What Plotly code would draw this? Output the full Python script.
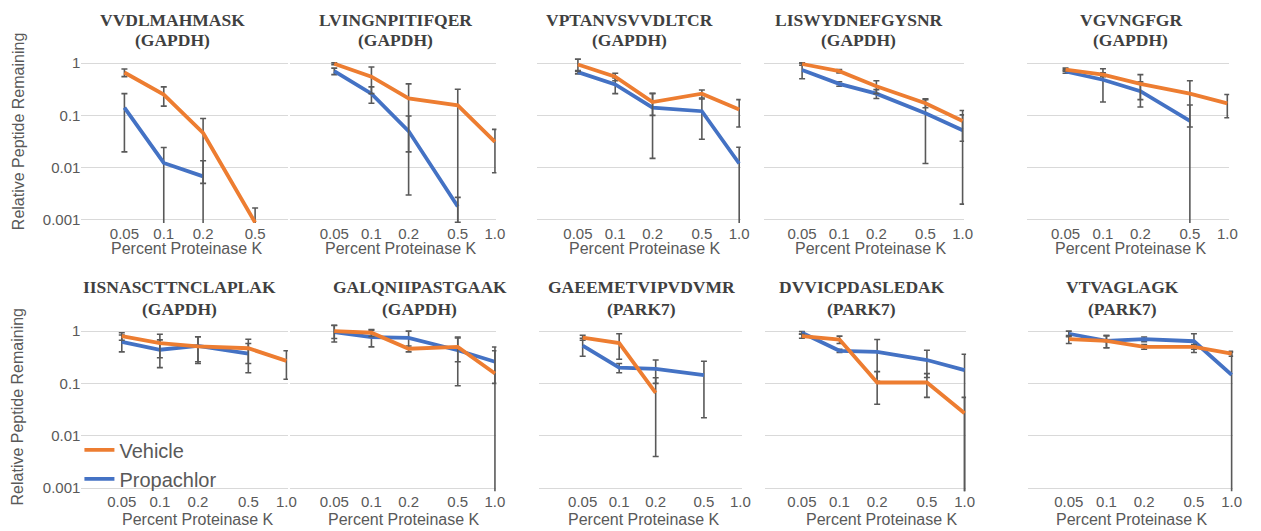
import plotly.graph_objects as go

W, H = 1261, 531

doses = [0.05, 0.1, 0.2, 0.5, 1.0]
dose_labels = ["0.05", "0.1", "0.2", "0.5", "1.0"]
y_ticks = [0.001, 0.01, 0.1, 1]
y_tick_labels = ["0.001", "0.01", "0.1", "1"]

peptides = ["VVDLMAHMASK", "LVINGNPITIFQER", "VPTANVSVVDLTCR", "LISWYDNEFGYSNR", "VGVNGFGR",
            "IISNASCTTNCLAPLAK", "GALQNIIPASTGAAK", "GAEEMETVIPVDVMR", "DVVICPDASLEDAK", "VTVAGLAGK"]
proteins = ["GAPDH", "GAPDH", "GAPDH", "GAPDH", "GAPDH",
            "GAPDH", "GAPDH", "PARK7", "PARK7", "PARK7"]

# Relative peptide remaining (mean) and standard deviation, per panel
p1_vehicle = [0.66, 0.25, 0.046, 0.00089, None]
p1_vehicle_sd = [0.11, 0.10, 0.041, 0.0008, None]
p1_propachlor = [0.14, 0.0123, 0.0068, None, None]
p1_propachlor_sd = [0.12, 0.012, 0.0067, None, None]

p2_vehicle = [0.97, 0.55, 0.21, 0.155, 0.031]
p2_vehicle_sd = [0.04, 0.29, 0.19, 0.16, 0.023]
p2_propachlor = [0.70, 0.26, 0.05, 0.0018, None]
p2_propachlor_sd = [0.10, 0.09, 0.047, 0.0009, None]

p3_vehicle = [0.94, 0.55, 0.18, 0.26, 0.13]
p3_vehicle_sd = [0.25, 0.09, 0.08, 0.045, 0.07]
p3_propachlor = [0.67, 0.39, 0.14, 0.12, 0.012]
p3_propachlor_sd = [0.05, 0.13, 0.125, 0.085, 0.0125]

p4_vehicle = [0.96, 0.70, 0.36, 0.17, 0.078]
p4_vehicle_sd = [0.05, 0.05, 0.10, 0.03, 0.046]
p4_propachlor = [0.74, 0.40, 0.26, 0.11, 0.052]
p4_propachlor_sd = [0.24, 0.04, 0.05, 0.098, 0.05]

p5_vehicle = [0.75, 0.60, 0.40, 0.26, 0.17]
p5_vehicle_sd = [0.05, 0.05, 0.20, 0.20, 0.08]
p5_propachlor = [0.69, 0.48, 0.29, 0.078, None]
p5_propachlor_sd = [0.05, 0.30, 0.146, 0.08, None]

p6_vehicle = [0.80, 0.59, 0.51, 0.47, 0.27]
p6_vehicle_sd = [0.13, 0.28, 0.27, 0.23, 0.15]
p6_propachlor = [0.62, 0.44, 0.52, 0.37, None]
p6_propachlor_sd = [0.22, 0.24, 0.26, 0.21, None]

p7_vehicle = [1.0, 0.93, 0.46, 0.50, 0.155]
p7_vehicle_sd = [0.28, 0.14, 0.06, 0.24, 0.34]
p7_propachlor = [0.96, 0.77, 0.74, 0.43, 0.26]
p7_propachlor_sd = [0.34, 0.27, 0.26, 0.34, 0.16]

p8_vehicle = [0.75, 0.59, 0.066, None, None]
p8_vehicle_sd = [0.08, 0.30, 0.062, None, None]
p8_propachlor = [0.53, 0.20, 0.19, 0.144, None]
p8_propachlor_sd = [0.20, 0.04, 0.09, 0.122, None]

p9_vehicle = [0.80, 0.69, 0.104, 0.104, 0.027]
p9_vehicle_sd = [0.07, 0.11, 0.064, 0.05, 0.027]
p9_propachlor = [0.93, 0.42, 0.40, 0.28, 0.18]
p9_propachlor_sd = [0.05, 0.03, 0.29, 0.15, 0.18]

p10_vehicle = [0.70, 0.65, 0.50, 0.50, 0.37]
p10_vehicle_sd = [0.12, 0.17, 0.05, 0.05, 0.04]
p10_propachlor = [0.89, 0.65, 0.70, 0.64, 0.146]
p10_propachlor_sd = [0.11, 0.17, 0.07, 0.25, 0.25]

vehicle = [p1_vehicle, p2_vehicle, p3_vehicle, p4_vehicle, p5_vehicle,
           p6_vehicle, p7_vehicle, p8_vehicle, p9_vehicle, p10_vehicle]
vehicle_sd = [p1_vehicle_sd, p2_vehicle_sd, p3_vehicle_sd, p4_vehicle_sd, p5_vehicle_sd,
              p6_vehicle_sd, p7_vehicle_sd, p8_vehicle_sd, p9_vehicle_sd, p10_vehicle_sd]
propachlor = [p1_propachlor, p2_propachlor, p3_propachlor, p4_propachlor, p5_propachlor,
              p6_propachlor, p7_propachlor, p8_propachlor, p9_propachlor, p10_propachlor]
propachlor_sd = [p1_propachlor_sd, p2_propachlor_sd, p3_propachlor_sd, p4_propachlor_sd, p5_propachlor_sd,
                 p6_propachlor_sd, p7_propachlor_sd, p8_propachlor_sd, p9_propachlor_sd, p10_propachlor_sd]

ORANGE = "#ED7D31"
BLUE = "#4472C4"
ERR = "#595959"
GRID = "#D9D9D9"
TXT = "#595959"
TITLE = "#404040"

# panel geometry (pixels)
col_px = [(82, 290), (292, 500), (541, 746), (769, 971), (1034, 1238),
          (82, 290), (292, 500), (543, 747), (770, 973), (1035, 1242)]
row_px = [(55, 224), (326.6, 495.7)]
x_ranges = [(-1.63, -0.05), (-1.66, 0.012), (-1.63, 0.012), (-1.614, 0.012), (-1.614, 0.015),
            (-1.62, 0.012), (-1.66, 0.012), (-1.66, 0.01), (-1.60, 0.012), (-1.63, 0.012)]
title_cx = [174, 398, 634, 865, 1139, 181, 423, 646, 868, 1131]
title_y = [(18, 39), (289, 311)]
xtitle_cx = [188, 404, 650, 877, 1139, 199, 407, 649, 888, 1140]
xtitle_y = [250, 524]


def fx(px):
    return px / W


def fy(py):
    return 1 - py / H


fig = go.Figure()
layout = dict(
    width=W, height=H, margin=dict(l=0, r=0, t=0, b=0),
    paper_bgcolor="white", plot_bgcolor="white",
    showlegend=True,
    legend=dict(x=fx(80), y=fy(434), xanchor="left", yanchor="top",
                font=dict(family="Liberation Sans, Arial", size=20, color=TXT),
                bgcolor="rgba(0,0,0,0)", tracegroupgap=0, itemwidth=30),
    annotations=[],
)

for i in range(10):
    r = 0 if i < 5 else 1
    n = "" if i == 0 else str(i + 1)
    xa, ya = "x" + n, "y" + n
    x0, x1 = col_px[i]
    y0, y1 = row_px[r]
    layout["xaxis" + n] = dict(
        type="log", domain=[fx(x0), fx(x1)], range=list(x_ranges[i]), anchor=ya,
        tickvals=doses, ticktext=dose_labels, showgrid=False, zeroline=False, showline=False,
        ticks="",
        tickfont=dict(family="Liberation Sans, Arial", size=15, color=TXT),
    )
    layout["yaxis" + n] = dict(
        type="log", domain=[fy(y1), fy(y0)], range=[-3.06, 0.13], anchor=xa,
        tickvals=y_ticks, ticktext=y_tick_labels, showgrid=True, gridcolor=GRID, gridwidth=1.3,
        zeroline=False, showline=False, ticks="",
        showticklabels=(i % 5 == 0),
        tickfont=dict(family="Liberation Sans, Arial", size=15, color=TXT),
    )
    fig.add_trace(go.Scatter(
        x=doses, y=propachlor[i], xaxis=xa, yaxis=ya, mode="lines", name="Propachlor",
        line=dict(color=BLUE, width=3.8), legendrank=2, showlegend=(i == 0),
        error_y=dict(type="data", array=propachlor_sd[i], symmetric=True, color=ERR, thickness=1.6, width=3),
    ))
    fig.add_trace(go.Scatter(
        x=doses, y=vehicle[i], xaxis=xa, yaxis=ya, mode="lines", name="Vehicle",
        line=dict(color=ORANGE, width=3.8), legendrank=1, showlegend=(i == 0),
        error_y=dict(type="data", array=vehicle_sd[i], symmetric=True, color=ERR, thickness=1.6, width=3),
    ))
    tf = dict(family="Liberation Serif, Times New Roman", size=17.5, color=TITLE)
    layout["annotations"].append(dict(
        text="<b>" + peptides[i] + "</b>", x=fx(title_cx[i]), y=fy(title_y[r][0]),
        xref="paper", yref="paper", showarrow=False, xanchor="center", yanchor="middle", font=tf))
    layout["annotations"].append(dict(
        text="<b>(" + proteins[i] + ")</b>", x=fx(title_cx[i]), y=fy(title_y[r][1]),
        xref="paper", yref="paper", showarrow=False, xanchor="center", yanchor="middle", font=tf))
    layout["annotations"].append(dict(
        text="Percent Proteinase K", x=fx(xtitle_cx[i]), y=fy(xtitle_y[r]),
        xref="paper", yref="paper", showarrow=False, xanchor="center", yanchor="middle",
        font=dict(family="Liberation Sans, Arial", size=16, color=TXT)))

for yc in (131, 410):
    layout["annotations"].append(dict(
        text="Relative Peptide Remaining", x=fx(18), y=fy(yc), xref="paper", yref="paper",
        showarrow=False, textangle=-90, xanchor="center", yanchor="middle",
        font=dict(family="Liberation Sans, Arial", size=16, color=TXT)))

fig.update_layout(**layout)
fig.write_html("out.html", config={"displayModeBar": False},
               post_script="document.body.style.margin='0px';")
